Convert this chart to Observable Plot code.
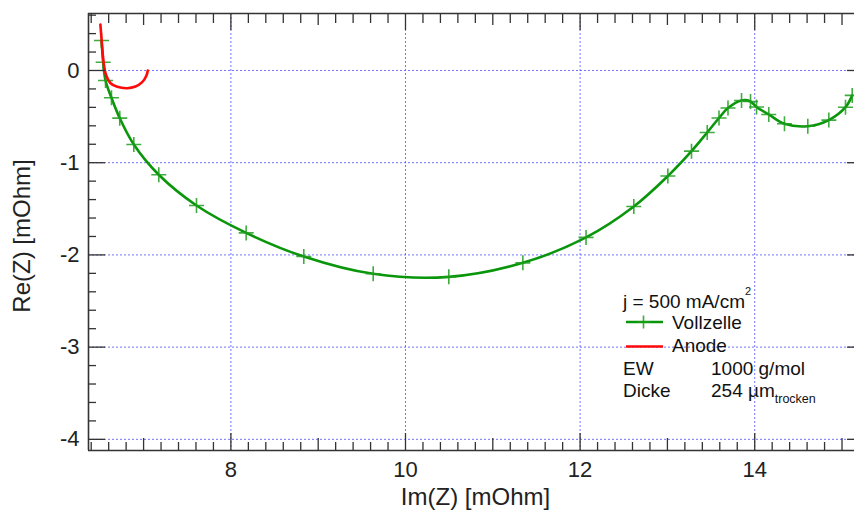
<!DOCTYPE html>
<html>
<head>
<meta charset="utf-8">
<script src="https://cdn.jsdelivr.net/npm/d3@7"></script>
<script src="https://cdn.jsdelivr.net/npm/@observablehq/plot@0.6"></script>
<style>
  html, body { margin: 0; padding: 0; background: #fff; }
  #wrap { position: relative; width: 854px; height: 512px; font-family: "Liberation Sans", Arial, sans-serif; }
  #legend { position: absolute; left: 0; top: 0; pointer-events: none; }
</style>
</head>
<body>
<div id="wrap"></div>
<script>
// ---- data ----
const vollX = [6.518, 6.537, 6.564, 6.632, 6.727, 6.888, 7.174, 7.606, 8.175, 8.835, 9.630, 10.496, 11.344, 12.068, 12.615, 13.005, 13.276, 13.456, 13.591, 13.694, 13.849, 13.952, 14.021, 14.161, 14.341, 14.608, 14.849, 15.040, 15.117];
const vollY = [0.325, 0.090, -0.108, -0.296, -0.517, -0.803, -1.131, -1.464, -1.761, -2.017, -2.205, -2.238, -2.086, -1.810, -1.475, -1.145, -0.875, -0.672, -0.515, -0.407, -0.325, -0.336, -0.396, -0.477, -0.578, -0.604, -0.538, -0.398, -0.270];
const anodeX = [6.505, 6.526, 6.544, 6.572, 6.621, 6.698, 6.812, 6.907, 6.984, 7.033, 7.048];
const anodeY = [0.499, 0.253, 0.073, -0.054, -0.138, -0.177, -0.192, -0.174, -0.127, -0.054, 0.000];

const xMajor = [8, 10, 12, 14];
const xMedium = [7, 9, 11, 13, 15];
const yMajor = [0, -1, -2, -3, -4];
const xDomain = [6.369, 15.143];
const yDomain = [-4.121, 0.618];

const xLabel = "Im(Z) [mOhm]";
const yLabel = "Re(Z) [mOhm]";

// minor ticks every 0.2
const xMinor = d3.range(32, 76).map(i => +(i * 0.2).toFixed(1)).filter(v => v > xDomain[0] && v < xDomain[1] && !Number.isInteger(v));
const yMinor = d3.range(-20, 4).map(i => +(i * 0.2).toFixed(1)).filter(v => v > yDomain[0] && v < yDomain[1] && !Number.isInteger(v));

const voll = vollX.map((x, i) => ({x, y: vollY[i]}));
const anode = anodeX.map((x, i) => ({x, y: anodeY[i]}));

// ---- layout ----
const W = 854, H = 512, mL = 88, mR = 0, mT = 13, mB = 62;
const innerW = W - mL - mR, innerH = H - mT - mB;

const cross = {
  draw(ctx, size) {
    const r = Math.sqrt(size / Math.PI);
    ctx.moveTo(-r, 0); ctx.lineTo(r, 0);
    ctx.moveTo(0, -r); ctx.lineTo(0, r);
  }
};

const gridColor = "#5a5aff";
const axisColor = "#333";

const chart = Plot.plot({
  width: W, height: H,
  marginLeft: mL, marginRight: mR, marginTop: mT, marginBottom: mB,
  style: {fontFamily: "'Liberation Sans', Arial, sans-serif", color: "#222", background: "#fff"},
  x: {domain: xDomain},
  y: {domain: yDomain},
  marks: [
    // grid
    Plot.ruleX(xMajor, {x: d => d, stroke: gridColor, strokeWidth: 1, strokeDasharray: "2,2", strokeOpacity: 0.85}),
    Plot.ruleY(yMajor, {y: d => d, stroke: gridColor, strokeWidth: 1, strokeDasharray: "2,2", strokeOpacity: 0.85}),
    // curves
    Plot.line(voll, {x: "x", y: "y", stroke: "#0a960a", strokeWidth: 2.6, curve: "catmull-rom"}),
    Plot.dot(voll, {x: "x", y: "y", symbol: cross, r: 7.5, stroke: "#1e9e1e", fill: "none", strokeWidth: 1.6, strokeOpacity: 0.85}),
    Plot.line(anode, {x: "x", y: "y", stroke: "#ff0a0a", strokeWidth: 2.6, curve: "catmull-rom"}),
    // inward ticks: bottom
    Plot.tickX(xMinor, {x: d => d, stroke: axisColor, strokeWidth: 1.3, insetTop: innerH - 8}),
    Plot.tickX(xMedium, {x: d => d, stroke: axisColor, strokeWidth: 1.3, insetTop: innerH - 12}),
    Plot.tickX(xMajor, {x: d => d, stroke: axisColor, strokeWidth: 1.3, insetTop: innerH - 17}),
    // top
    Plot.tickX(xMinor, {x: d => d, stroke: axisColor, strokeWidth: 1.3, insetBottom: innerH - 10}),
    Plot.tickX(xMedium, {x: d => d, stroke: axisColor, strokeWidth: 1.3, insetBottom: innerH - 12}),
    Plot.tickX(xMajor, {x: d => d, stroke: axisColor, strokeWidth: 1.3, insetBottom: innerH - 17}),
    // left
    Plot.tickY(yMinor, {y: d => d, stroke: axisColor, strokeWidth: 1.3, insetRight: innerW - 8}),
    Plot.tickY(yMajor, {y: d => d, stroke: axisColor, strokeWidth: 1.3, insetRight: innerW - 17}),
    // right (frame lies just beyond the picture)
    Plot.tickY(yMajor, {y: d => d, stroke: axisColor, strokeWidth: 1.3, insetLeft: innerW - 7}),
    // frame lines
    Plot.ruleX([xDomain[0]], {x: d => d, stroke: axisColor, strokeWidth: 1.6}),
    Plot.ruleY([yDomain[0]], {y: d => d, stroke: axisColor, strokeWidth: 1.6}),
    Plot.ruleY([yDomain[1]], {y: d => d, stroke: axisColor, strokeWidth: 1.6}),
    // tick labels
    Plot.axisX(xMajor, {anchor: "bottom", tickSize: 0, tickPadding: 11, tickFormat: d => String(d), fontSize: 22, label: null}),
    Plot.axisY(yMajor, {anchor: "left", tickSize: 0, tickPadding: 9, tickFormat: d => String(d), fontSize: 22, label: null}),
    // axis titles
    Plot.text([xLabel], {text: d => d, frameAnchor: "bottom", dy: 47, dx: 4, fontSize: 24, textAnchor: "middle", lineAnchor: "middle", fill: "#222"}),
    Plot.text([yLabel], {text: d => d, frameAnchor: "left", dx: -66, dy: 4, rotate: -90, fontSize: 24, textAnchor: "middle", lineAnchor: "middle", fill: "#222"})
  ]
});

const wrap = document.getElementById("wrap");
wrap.appendChild(chart);

// ---- legend / annotation (inside the plot area) ----
const NS = "http://www.w3.org/2000/svg";
const leg = document.createElementNS(NS, "svg");
leg.setAttribute("id", "legend");
leg.setAttribute("width", W);
leg.setAttribute("height", H);
leg.innerHTML = `
  <g font-family="'Liberation Sans', Arial, sans-serif" font-size="19" fill="#111">
    <text x="623" y="307.5">j = 500 mA/cm<tspan font-size="11" dy="-13">2</tspan></text>
    <line x1="626" x2="663" y1="322" y2="322" stroke="#0a960a" stroke-width="2.6"/>
    <path d="M637,322H650M643.5,315.5V328.5" stroke="#1e9e1e" stroke-width="1.6" stroke-opacity="0.85" fill="none"/>
    <text x="672" y="328.5">Vollzelle</text>
    <line x1="626" x2="663" y1="346.5" y2="346.5" stroke="#ff0a0a" stroke-width="2.6"/>
    <text x="672" y="352">Anode</text>
    <text x="623" y="375">EW</text>
    <text x="711" y="375">1000 g/mol</text>
    <text x="623" y="397">Dicke</text>
    <text x="711" y="397">254 µm<tspan font-size="12.5" dy="5.5">trocken</tspan></text>
  </g>`;
wrap.appendChild(leg);
</script>
</body>
</html>
